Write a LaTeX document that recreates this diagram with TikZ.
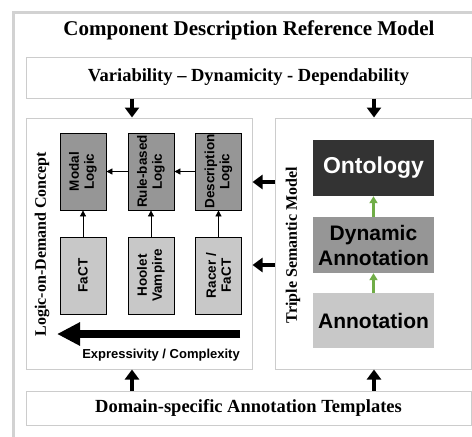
\documentclass[tikz,border=0pt]{standalone}
\usepackage{fontspec}
\setmainfont{Liberation Serif}
\setsansfont{Liberation Sans}
\usetikzlibrary{arrows.meta}

\definecolor{framegray}{HTML}{D2D2D2}
\definecolor{panelgray}{HTML}{CCCCCC}
\definecolor{logicgray}{HTML}{969696}
\definecolor{toolgray}{HTML}{C8C8C8}
\definecolor{ontogray}{HTML}{333333}
\definecolor{linkgreen}{HTML}{70AD47}

\tikzset{
  panel/.style={draw=panelgray, line width=1pt, fill=white, inner sep=0pt},
  logicbox/.style={draw=black, line width=0.8pt, fill=logicgray, rotate=90,
    minimum width=77pt, minimum height=46pt, inner sep=1pt, align=center,
    font=\sffamily\bfseries\fontsize{13.5}{15}\selectfont},
  toolbox/.style={logicbox, fill=toolgray},
  layerbox/.style={fill=#1, minimum width=121pt, minimum height=56pt,
    inner sep=0pt, align=center,
    font=\sffamily\bfseries\fontsize{21}{25}\selectfont},
  fatarrow/.style={line width=4pt, -{Triangle[width=14pt,length=10pt]}},
  hugearrow/.style={line width=8pt, -{Triangle[width=22pt,length=23pt]}},
  thinarrow/.style={line width=0.8pt, -{Triangle[width=6pt,length=6pt]}},
  greenarrow/.style={draw=linkgreen, line width=2.2pt, -{Triangle[width=8pt,length=7pt]}},
  paneltitle/.style={rotate=90, font=\bfseries\fontsize{16}{18}\selectfont}
}

\begin{document}
\begin{tikzpicture}[x=1pt,y=-1pt]

\path[use as bounding box, clip] (0,0) rectangle (472,437);
\draw[framegray, line width=3pt] (13,12) rectangle (490,460);

\node[font=\bfseries\fontsize{21}{24}\selectfont] (title) at (249,30) {Component Description Reference Model};

\node[panel, minimum width=445pt, minimum height=41pt,
  font=\bfseries\fontsize{18.5}{21}\selectfont] (header) at (248.5,77.5) {Variability -- Dynamicity - Dependability};

\node[panel, minimum width=226pt, minimum height=251pt] (lp) at (139,243.5) {};
\node[panel, minimum width=196pt, minimum height=251pt] (rp) at (373,243.5) {};

\node[panel, minimum width=445pt, minimum height=34pt,
  font=\bfseries\fontsize{18.5}{21}\selectfont] (footer) at (248.5,408) {Domain-specific Annotation Templates};

\node[paneltitle] (lodlabel) at (42,244) {Logic-on-Demand Concept};
\node[paneltitle] (tsmlabel) at (293,245) {Triple Semantic Model};

% logics and reasoners
\node[logicbox] (modal) at (83,171.5) {Modal\\Logic};
\node[logicbox] (rule) at (151,171.5) {Rule-based\\Logic};
\node[logicbox] (desc) at (218.5,171.5) {Description\\Logic};

\node[toolbox] (fact) at (83,275.5) {FaCT};
\node[toolbox] (hoolet) at (151,275.5) {Hoolet\\Vampire};
\node[toolbox] (racer) at (218.5,275.5) {Racer /\\FaCT};

\draw[thinarrow] (desc) -- (rule);
\draw[thinarrow] (rule) -- (modal);
\draw[thinarrow] (fact) -- (modal);
\draw[thinarrow] (hoolet) -- (rule);
\draw[thinarrow] (racer) -- (desc);

\coordinate (xs) at (240,334);
\coordinate (xe) at (57,334);
\draw[hugearrow] (xs) -- (xe);
\node[anchor=east, inner sep=0pt, font=\sffamily\bfseries\fontsize{13}{15}\selectfont] (expr) at (240,355) {Expressivity / Complexity};

% semantic layers
\node[layerbox=ontogray, text=white, font=\sffamily\bfseries\fontsize{23}{26}\selectfont] (onto) at (373.5,168) {Ontology};
\node[layerbox=logicgray] (dyn) at (373.5,245) {Dynamic\\Annotation};
\node[layerbox=toolgray, minimum height=55pt] (ann) at (373.5,320.5) {Annotation};

\draw[greenarrow] (ann) -- (dyn);
\draw[greenarrow] (dyn) -- (onto);

% links between the boxes
\coordinate (la) at (132,0);
\coordinate (ra) at (374,0);
\coordinate (ya) at (0,182);
\coordinate (yb) at (0,265);

\draw[fatarrow] (header.south -| la) -- (lp.north -| la);
\draw[fatarrow] (header.south -| ra) -- (rp.north -| ra);
\draw[fatarrow] (footer.north -| la) -- (lp.south -| la);
\draw[fatarrow] (footer.north -| ra) -- (rp.south -| ra);
\draw[fatarrow] (rp.west |- ya) -- (lp.east |- ya);
\draw[fatarrow] (rp.west |- yb) -- (lp.east |- yb);

\end{tikzpicture}
\end{document}
